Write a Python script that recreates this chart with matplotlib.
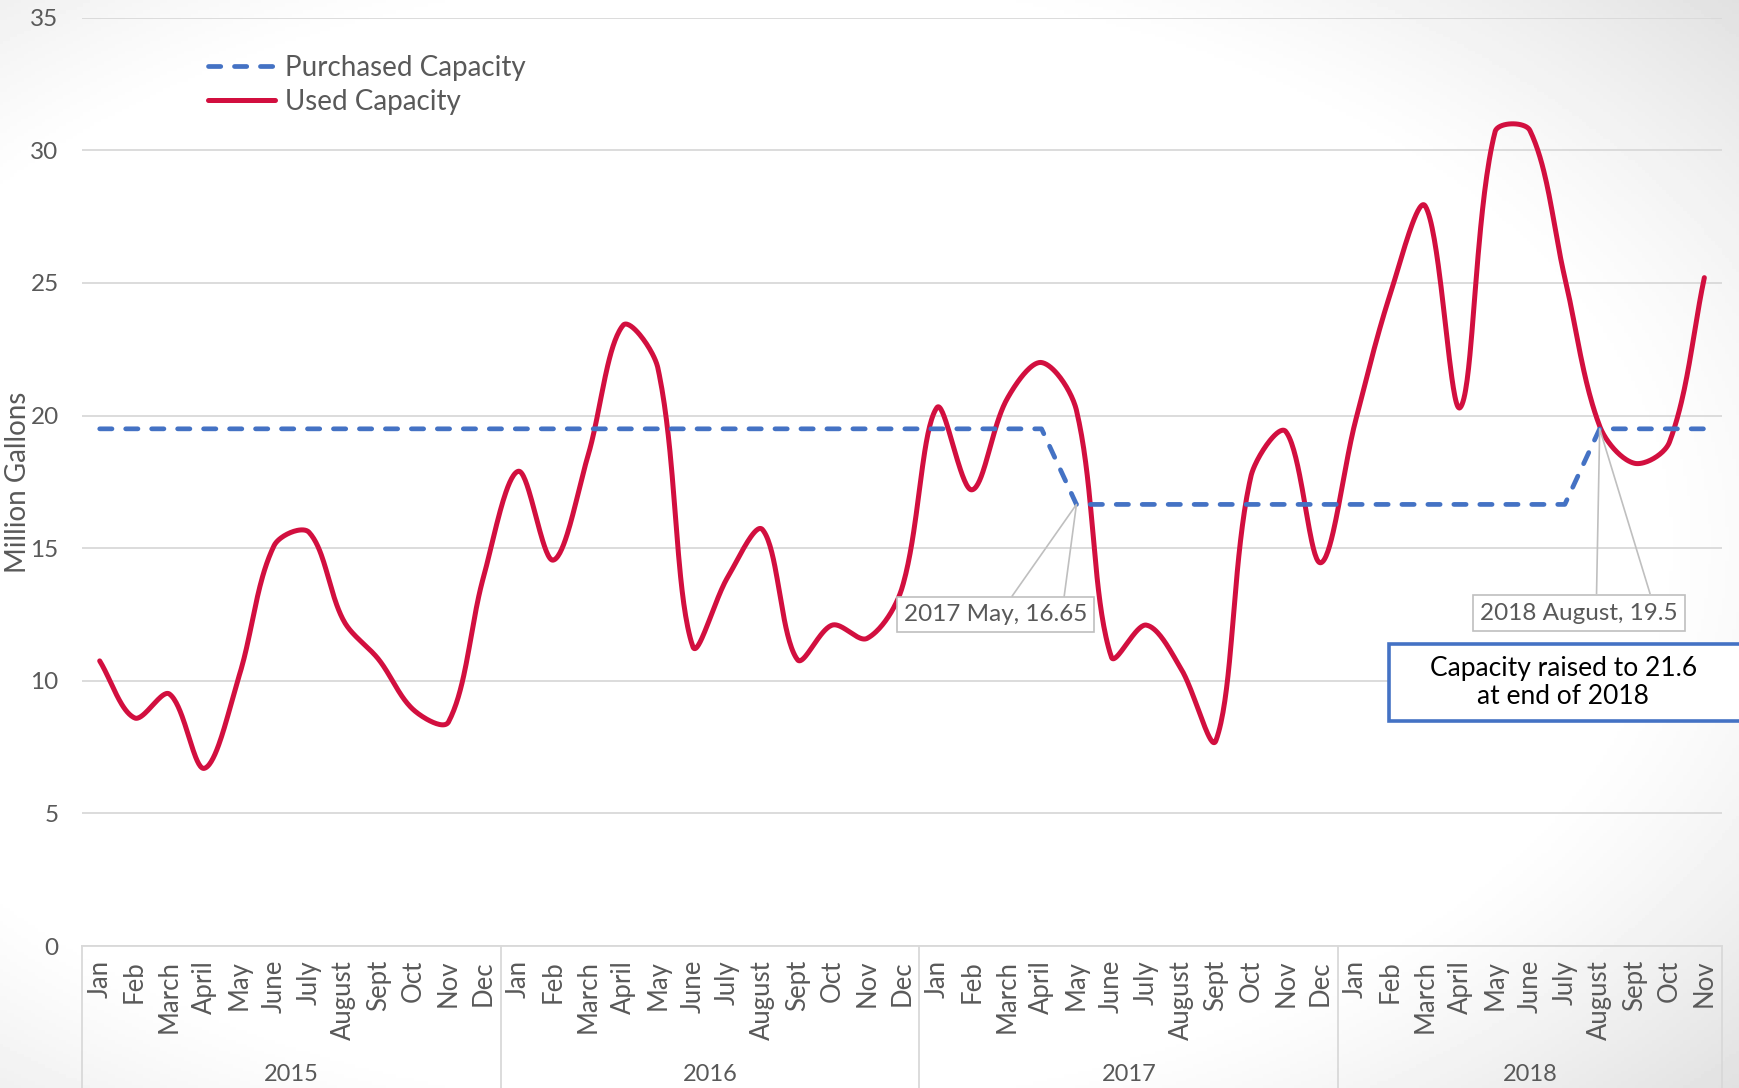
import numpy as np
import matplotlib
matplotlib.use("Agg")
import matplotlib.pyplot as plt
from matplotlib.lines import Line2D
from matplotlib.patches import Rectangle
import matplotlib.transforms as mtransforms

plt.rcParams['font.family'] = ['Lato', 'DejaVu Sans']

months = ["Jan", "Feb", "March", "April", "May", "June", "July", "August",
          "Sept", "Oct", "Nov", "Dec"]
years = ["2015", "2016", "2017", "2018"]
months_2018 = months[:11]
tick_labels = months * 3 + months_2018

used = [10.75, 8.6, 9.5, 6.7, 10.2, 15.1, 15.6, 12.25, 10.8, 8.9, 8.45, 13.9,
        17.9, 14.55, 18.5, 23.4, 21.8, 11.3, 13.9, 15.7, 10.8, 12.1, 11.6, 13.5,
        20.3, 17.2, 20.6, 22.0, 20.2, 10.9, 12.1, 10.45, 7.75, 17.7, 19.4, 14.45,
        19.8, 24.6, 27.9, 20.3, 30.7, 30.75, 25.2, 19.6, 18.2, 19.0, 25.2]
purchased = [19.5] * 28 + [16.65] * 15 + [19.5] * 4

RED = "#D20F3F"
BLUE = "#4472C4"
GRAY = "#595959"
GRID = "#D9D9D9"


def smooth(x, y, sx=34.9, sy=26.5, n=40):
    """Excel-like smoothed line: Bezier segments whose handles follow the
    neighbour chord and are scaled by adjacent segment lengths (screen space)."""
    P = np.column_stack([np.asarray(x, float) * sx, np.asarray(y, float) * sy])
    m = len(P)
    cin = np.zeros_like(P)
    cout = np.zeros_like(P)
    for i in range(m):
        prev = P[i - 1] if i > 0 else P[i]
        nxt = P[i + 1] if i < m - 1 else P[i]
        tan = nxt - prev
        d1 = np.linalg.norm(P[i] - prev)
        d2 = np.linalg.norm(nxt - P[i])
        tot = d1 + d2
        if tot == 0:
            cin[i] = cout[i] = P[i]
            continue
        k = 1.0 / 3.0
        cout[i] = P[i] + tan * (d2 / tot) * k
        cin[i] = P[i] - tan * (d1 / tot) * k
    t = np.linspace(0, 1, n)[:, None]
    pts = []
    for i in range(m - 1):
        b = ((1 - t) ** 3 * P[i] + 3 * (1 - t) ** 2 * t * cout[i]
             + 3 * (1 - t) * t ** 2 * cin[i + 1] + t ** 3 * P[i + 1])
        pts.append(b if i == 0 else b[1:])
    pts = np.vstack(pts)
    return pts[:, 0] / sx, pts[:, 1] / sy


fig = plt.figure(figsize=(17.39, 10.88), dpi=100)

# background vignette
bg = fig.add_axes([0, 0, 1, 1], zorder=-10)
gx, gy = np.meshgrid(np.linspace(0, 1, 500), np.linspace(0, 1, 320))
r = np.sqrt(((gx - 0.42) / 0.6) ** 2 + ((gy - 0.5) / 0.58) ** 2)
val = 1 - 0.13 * np.clip((r - 0.88) / 0.45, 0, 1) ** 1.2
bg.imshow(val, cmap="gray", vmin=0, vmax=1, aspect="auto", extent=[0, 1, 0, 1],
          origin="lower")
bg.axis("off")

ax = fig.add_axes([0.0473, 0.1305, 0.9428, 0.8532])
ax.patch.set_alpha(0)

x = np.arange(len(used))
sx_, sy_ = smooth(x, used)
ax.plot(sx_, sy_, color=RED, lw=3.6, solid_capstyle="round", zorder=3)
ax.plot(x, purchased, color=BLUE, lw=3.4, dashes=(2.6, 2.9),
        dash_capstyle="round", zorder=4)

ax.set_xlim(-0.5, len(used) - 0.5)
ax.set_ylim(0, 35)
ax.set_yticks(np.arange(0, 36, 5))
ax.yaxis.grid(True, color=GRID, lw=1.3)
ax.set_axisbelow(True)
for s in ["left", "right", "top"]:
    ax.spines[s].set_visible(False)
ax.spines["bottom"].set_color(GRID)
ax.spines["bottom"].set_linewidth(1.3)

ax.set_xticks(x)
ax.set_xticklabels(tick_labels, rotation=90, fontsize=18.5, color=GRAY)
ax.tick_params(axis="x", length=0, pad=10)
ax.tick_params(axis="y", length=0, pad=17, labelsize=17.5, labelcolor=GRAY)
ax.set_ylabel("Million Gallons", fontsize=20, color=GRAY)
ax.yaxis.set_label_coords(-0.031, 0.5)

trans = mtransforms.blended_transform_factory(ax.transData, ax.transAxes)
for b in [-0.5, 11.5, 23.5, 35.5, 46.5]:
    ax.plot([b, b], [0, -0.16], transform=trans, color=GRID, lw=1.3, clip_on=False)
year_centers = [5.5, 17.5, 29.5, 41]
for yc, yl in zip(year_centers, years):
    ax.text(yc, -0.138, yl, transform=trans, ha="center", va="center",
            fontsize=17, color=GRAY)

# legend
handles = [Line2D([], [], color=BLUE, lw=3.4, dashes=(2.6, 2.9), dash_capstyle="round"),
           Line2D([], [], color=RED, lw=3.6, solid_capstyle="round")]
leg = ax.legend(handles, ["Purchased Capacity", "Used Capacity"], loc="upper left",
                bbox_to_anchor=(0.0685, 0.975), frameon=False, fontsize=20,
                handlelength=2.4, handletextpad=0.36, labelspacing=0.3, borderpad=0)
for t in leg.get_texts():
    t.set_color(GRAY)


# callouts
def callout(px, py, tx, ty, bx1, bx2, by, text):
    ax.plot([bx1, px, bx2], [by, py, by], color="#BFBFBF", lw=1.2, zorder=5)
    ax.text(tx, ty, text, ha="center", va="center", fontsize=17.5, color=GRAY, zorder=6,
            bbox=dict(boxstyle="square,pad=0.3", fc="white", ec="#BFBFBF", lw=1.2))


callout(28, purchased[28], 25.68, 12.5, 26.16, 27.65, 13.2, "2017 May, 16.65")
callout(43, purchased[43], 42.4, 12.55, 42.91, 44.44, 13.3, "2018 August, 19.5")

ax.add_patch(Rectangle((36.97, 8.49), 12.0, 2.89, fc="white", ec=BLUE, lw=2.6,
                       zorder=6, clip_on=False))
ax.text(41.96, 9.93, "Capacity raised to 21.6\nat end of 2018", ha="center", va="center",
        fontsize=19, color="black", linespacing=1.15, zorder=7)

fig.savefig("out.png", dpi=100)
